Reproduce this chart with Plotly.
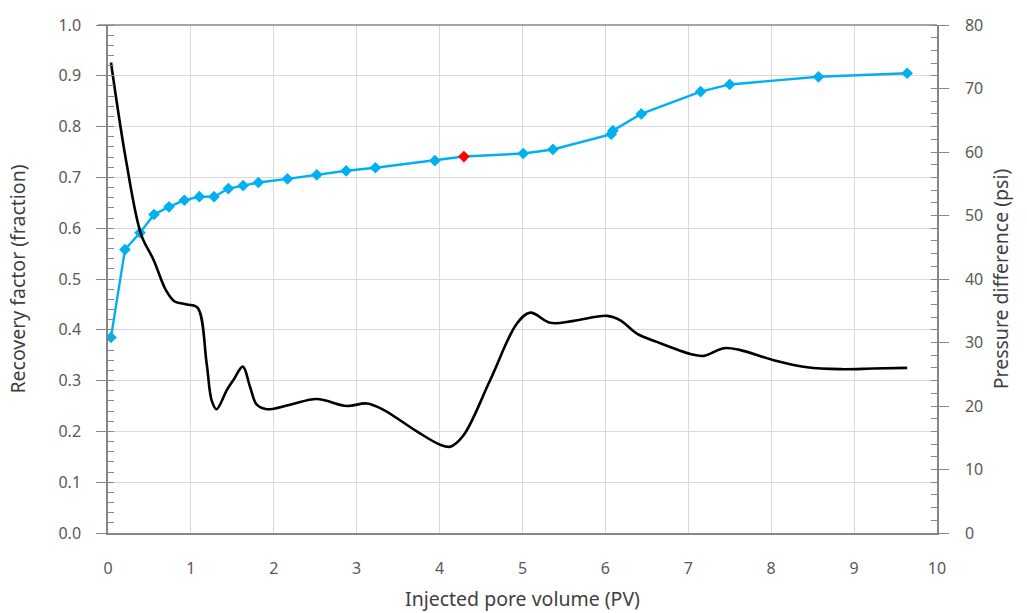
import plotly.graph_objects as go

# Recovery factor (fraction) vs injected pore volume (PV)
pv_rf = [0.036, 0.205, 0.386, 0.555, 0.736, 0.921, 1.102, 1.279, 1.452, 1.630,
         1.814, 2.164, 2.519, 2.873, 3.226, 3.943, 4.293, 5.009, 5.367, 6.070,
         6.090, 6.433, 7.149, 7.499, 8.570, 9.640]
rf = [0.385, 0.558, 0.591, 0.627, 0.642, 0.655, 0.662, 0.662, 0.678, 0.684,
      0.690, 0.697, 0.705, 0.713, 0.719, 0.733, 0.741, 0.747, 0.755, 0.785,
      0.792, 0.825, 0.869, 0.883, 0.898, 0.905]
highlight_index = 16  # point drawn in red

# Pressure difference (psi) vs injected pore volume (PV)
pv_dp = [0.036, 0.22, 0.40, 0.55, 0.70, 0.80, 0.95, 1.08,
         1.19, 1.25, 1.31, 1.433, 1.513, 1.626, 1.714, 1.795, 1.915, 2.197,
         2.519, 2.881, 3.122, 3.323, 3.725, 4.007, 4.128, 4.289, 4.611, 4.933,
         5.094, 5.335, 5.617, 6.019, 6.18, 6.38, 6.62, 7.025, 7.186, 7.427,
         7.628, 8.03, 8.433, 8.835, 9.237, 9.64]
dp = [74.1, 58.5, 47.0, 43.0, 38.2, 36.5, 36.0, 35.5,
      26.7, 20.9, 19.5, 22.5, 24.1, 26.2, 23.0, 20.2, 19.5, 20.2,
      21.1, 20.0, 20.4, 19.4, 16.0, 13.9, 13.6, 15.4, 24.1, 33.0,
      34.7, 33.1, 33.4, 34.2, 33.5, 31.4, 30.1, 28.2, 27.9, 29.1,
      28.8, 27.2, 26.1, 25.8, 25.9, 26.0]

BLUE = "#00B0F0"
FONT = "Noto Sans"
marker_colors = ["#FF0000" if i == highlight_index else BLUE for i in range(len(rf))]

fig = go.Figure()
fig.add_trace(go.Scatter(
    x=pv_dp, y=dp, mode="lines", yaxis="y2",
    line=dict(color="#000000", width=2.6, shape="spline", smoothing=1.0),
    showlegend=False, hoverinfo="x+y"))
fig.add_trace(go.Scatter(
    x=pv_rf, y=rf, mode="lines+markers",
    line=dict(color=BLUE, width=2.4),
    marker=dict(symbol="diamond", size=9, color=marker_colors),
    showlegend=False))

axis_line = "#868686"
tick_font = dict(family=FONT, size=16, color="#595959")
title_font = dict(family=FONT, size=19.5, color="#404040")

fig.update_layout(
    width=1027, height=613,
    margin=dict(l=108, r=90, t=25, b=80),
    paper_bgcolor="white", plot_bgcolor="white",
    font=dict(family=FONT),
    xaxis=dict(range=[0, 10], dtick=1, tick0=0, showgrid=True, gridcolor="#D9D9D9",
               gridwidth=1, zeroline=False, showline=True, linecolor=axis_line,
               linewidth=1.5, ticks="", tickfont=tick_font, ticklabelstandoff=20,
               automargin=False,
               title=dict(text="Injected pore volume (PV)", font=title_font, standoff=14)),
    yaxis=dict(range=[0, 1.0], dtick=0.1, tick0=0, tickformat=".1f", showgrid=True,
               gridcolor="#D9D9D9", gridwidth=1, zeroline=False, showline=True,
               linecolor=axis_line, linewidth=1.5, ticks="outside", ticklen=10,
               tickcolor=axis_line, tickwidth=1.2, tickfont=tick_font, ticklabelstandoff=12,
               automargin=False,
               minor=dict(dtick=0.02, ticks="inside", ticklen=6, tickcolor=axis_line,
                          tickwidth=1.2, showgrid=False),
               title=dict(text="Recovery factor (fraction)", font=title_font, standoff=28)),
    yaxis2=dict(range=[0, 80], dtick=10, tick0=0, overlaying="y", side="right",
                showgrid=False, zeroline=False, showline=True, linecolor=axis_line,
                linewidth=1.5, ticks="outside", ticklen=10, tickcolor=axis_line,
                tickwidth=1.2, tickfont=tick_font, ticklabelstandoff=13,
                automargin=False,
                minor=dict(dtick=2, ticks="inside", ticklen=6, tickcolor=axis_line,
                           tickwidth=1.2, showgrid=False),
                title=dict(text="Pressure difference (psi)", font=title_font, standoff=12)),
)
fig.add_shape(type="line", xref="paper", yref="paper", x0=-0.012, x1=1, y0=1, y1=1,
              line=dict(color=axis_line, width=1.5))

fig.write_html("out.html")
